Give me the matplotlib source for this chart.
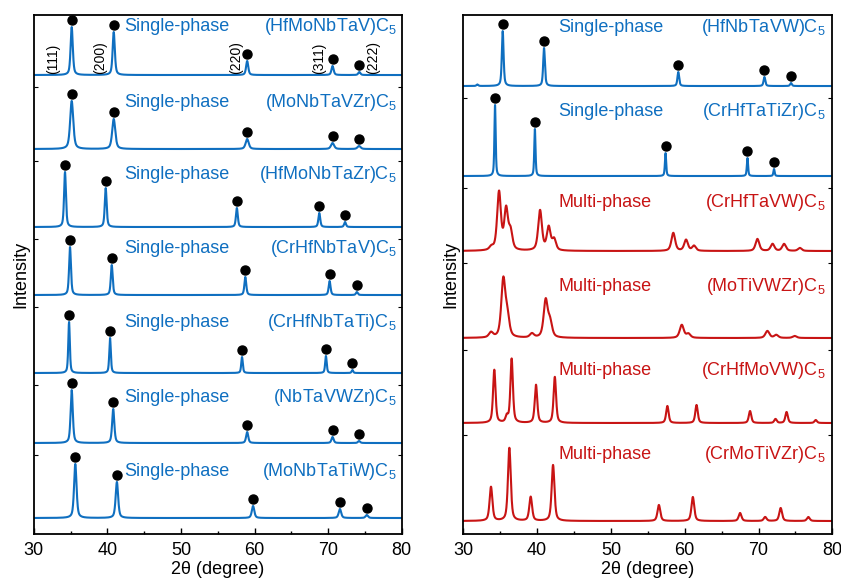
import numpy as np
import matplotlib.pyplot as plt
from matplotlib.ticker import MultipleLocator

plt.rcParams['font.family'] = ['Liberation Sans', 'DejaVu Sans']
plt.rcParams['mathtext.fontset'] = 'custom'
plt.rcParams['mathtext.rm'] = 'Liberation Sans'

blue = '#0F6FC0'
red = '#C81414'

# ---- left panel: single-phase samples (peak 2theta, peak height) ----
left_names = ['(HfMoNbTaV)', '(MoNbTaVZr)', '(HfMoNbTaZr)', '(CrHfNbTaV)',
              '(CrHfNbTaTi)', '(NbTaVWZr)', '(MoNbTaTiW)']
left_base = [459, 385, 307, 239, 161, 91, 16]
left_pos = [[35.16, 40.87, 59.0, 70.6, 74.24],
            [35.16, 40.87, 59.0, 70.6, 74.2],
            [34.25, 39.78, 57.6, 68.8, 72.3],
            [34.93, 40.6, 58.75, 70.2, 73.9],
            [34.8, 40.37, 58.3, 69.7, 73.3],
            [35.16, 40.8, 59.0, 70.6, 74.2],
            [35.65, 41.3, 59.8, 71.6, 75.25]]
left_h = [[48, 43, 14, 9, 3],
          [48, 30, 10, 6, 3],
          [55, 39, 19, 14, 5],
          [48, 30, 18, 14, 3],
          [51, 35, 16, 17, 3],
          [53, 34, 11, 6, 2],
          [54, 36, 12, 9, 3]]
left_w = [0.35, 0.5, 0.3, 0.3, 0.25, 0.35, 0.4]
left_txt_off = [49, 47, 53, 47, 51, 46, 47]

hkl = ['(111)', '(200)', '(220)', '(311)', '(222)']
hkl_x = [32.6, 39.0, 57.5, 68.8, 76.1]

# ---- right panel ----
right_names = ['(HfNbTaVW)', '(CrHfTaTiZr)', '(CrHfTaVW)', '(MoTiVWZr)',
               '(CrHfMoVW)', '(CrMoTiVZr)']
right_single = [True, True, False, False, False, False]
right_base = [448, 358, 283, 196, 111, 13]
right_pos = [[31.9, 35.34, 40.94, 59.13, 70.8, 74.4],
             [34.3, 39.7, 57.4, 68.5, 72.1],
             [33.8, 34.84, 35.8, 36.4, 40.4, 41.57, 42.3, 58.45, 60.18, 61.26,
              69.85, 71.9, 73.46, 75.6],
             [33.75, 35.42, 35.96, 39.3, 41.16, 41.75, 59.6, 60.5, 71.2, 72.4, 74.9],
             [34.2, 35.9, 36.55, 39.85, 42.4, 57.65, 61.6, 68.85, 72.3, 73.8, 77.75],
             [33.75, 36.24, 39.13, 42.16, 56.5, 61.1, 67.5, 70.9, 73.0, 76.75]]
right_h = [[1.5, 55, 38, 14, 9, 3],
           [71, 47, 23, 18, 7],
           [3, 58, 40, 18, 40, 23, 11, 18, 11, 5, 12, 7, 7, 3],
           [5, 57, 20, 4, 37, 15, 13, 4, 7, 3, 2],
           [53, 6, 64, 38, 46, 17, 18, 12, 4, 11, 3],
           [34, 73, 24, 56, 16, 24, 8, 4, 13, 4]]
right_w = [0.28, 0.2, 0.6, 0.65, 0.4, 0.45]
right_txt_off = [59, 65, 49, 52, 53, 67]
# which peaks get a dot (single-phase only)
right_dots = [[1, 2, 3, 4, 5], [0, 1, 2, 3, 4], [], [], [], []]

x = np.linspace(30, 80, 3000)


def profile(pos, h, w):
    y = np.zeros_like(x)
    for p, a in zip(pos, h):
        g = np.exp(-4 * np.log(2) * (x - p) ** 2 / w ** 2)
        l = 1 / (1 + 4 * (x - p) ** 2 / w ** 2)
        y += a * (0.45 * g + 0.55 * l)
    return y


fig = plt.figure(figsize=(8.41, 5.80), dpi=100)
axL = fig.add_axes([0.0401, 0.0793, 0.4376, 0.8948])
axR = fig.add_axes([0.5509, 0.0793, 0.4388, 0.8948])

for ax in (axL, axR):
    ax.set_xlim(30, 80)
    ax.set_ylim(0, 519)
    ax.xaxis.set_major_locator(MultipleLocator(10))
    ax.xaxis.set_minor_locator(MultipleLocator(5))
    ax.tick_params(axis='x', which='major', direction='in', length=4, labelsize=13, width=1, pad=6)
    ax.tick_params(axis='x', which='minor', direction='in', length=2.5, width=1)
    ax.tick_params(axis='y', direction='in', length=3, left=True, right=True, labelleft=False)
    for s in ax.spines.values():
        s.set_linewidth(1.3)
    ax.set_xlabel('2θ (degree)', fontsize=13, labelpad=1)
    ax.set_ylabel('Intensity', fontsize=13, labelpad=3)

axL.set_yticks([b - 12 for b in left_base[:-1]])
axR.set_yticks([b - 12 for b in right_base[:-1]])

# left panel
for i in range(len(left_names)):
    b = left_base[i]
    y = profile(left_pos[i], left_h[i], left_w[i])
    axL.plot(x, b + y, color=blue, lw=1.5)
    axL.plot(left_pos[i], [b + h + 7 for h in left_h[i]], 'o', color='black', ms=6.5)
    ty = b + left_txt_off[i]
    axL.text(42.3, ty, 'Single-phase', color=blue, fontsize=13, va='center', ha='left')
    axL.text(79.3, ty, left_names[i] + r'C$_{\mathregular{5}}$', color=blue,
             fontsize=13, va='center', ha='right')

for lab, hx in zip(hkl, hkl_x):
    axL.text(hx, left_base[0] + 1, lab, rotation=90, fontsize=10, ha='center', va='bottom')

# right panel
for i in range(len(right_names)):
    b = right_base[i]
    col = blue if right_single[i] else red
    y = profile(right_pos[i], right_h[i], right_w[i])
    axR.plot(x, b + y, color=col, lw=1.5)
    for k in right_dots[i]:
        axR.plot(right_pos[i][k], b + right_h[i][k] + 7, 'o', color='black', ms=6.5)
    ty = b + right_txt_off[i]
    axR.text(42.9, ty, 'Single-phase' if right_single[i] else 'Multi-phase',
             color=col, fontsize=13, va='center', ha='left')
    axR.text(79.1, ty, right_names[i] + r'C$_{\mathregular{5}}$', color=col,
             fontsize=13, va='center', ha='right')

fig.savefig('out.png', dpi=100)
